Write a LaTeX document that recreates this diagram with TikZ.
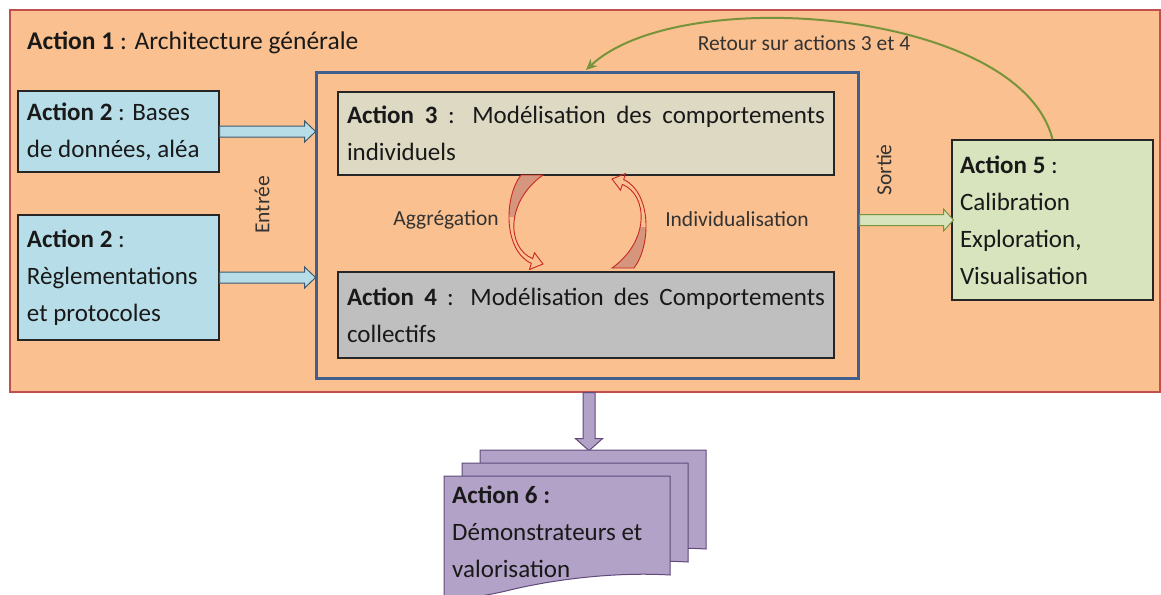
\documentclass[tikz,border=0pt]{standalone}
\usepackage{fontspec}
\setmainfont{Carlito}
\usetikzlibrary{arrows.meta}
\definecolor{orangefond}{RGB}{250,192,144}
\definecolor{rougebord}{RGB}{192,80,77}
\definecolor{bleuclair}{RGB}{183,222,232}
\definecolor{bleubord}{RGB}{60,90,110}
\definecolor{bleucadre}{RGB}{65,95,140}
\definecolor{beige}{RGB}{221,217,195}
\definecolor{grisclair}{RGB}{191,191,191}
\definecolor{vertclair}{RGB}{215,228,189}
\definecolor{vertfonce}{RGB}{119,147,60}
\definecolor{rougefleche}{RGB}{200,40,35}
\definecolor{saumon}{RGB}{214,150,125}
\definecolor{violet}{RGB}{179,162,199}
\definecolor{violetfonce}{RGB}{96,74,123}

\begin{document}
\begin{tikzpicture}[x=1pt,y=-1pt,
    action/.style={draw=black!85,line width=1.2pt,inner xsep=9pt,inner ysep=0pt,align=flush left,text=black!90,font=\fontsize{25pt}{37pt}\selectfont},
    etiquette/.style={text=black!80,inner sep=0pt,font=\fontsize{21.5pt}{24pt}\selectfont},
    bloc/.style={line width=1pt,line join=miter},
    courbe/.style={draw=rougefleche,line width=0.9pt}]
\useasboundingbox (0,0) rectangle (1161,594);
\node[draw=rougebord,fill=orangefond,line width=1.3pt,minimum width=1150pt,minimum height=382pt] (bg) at (585,201) {};
\node[anchor=west,inner sep=0pt,text=black!90,font=\fontsize{25.5pt}{37pt}\selectfont] (a1) at (27,43) {\textbf{Action 1} : Architecture générale};
\node[draw=bleucadre,line width=3pt,minimum width=542pt,minimum height=306pt] (frame) at (587,225) {};

\node[action,fill=bleuclair,minimum width=201pt,minimum height=81pt,text width=183pt] (b1) at (118.5,131.5) {\textbf{Action 2} : Bases\\de données, aléa};
\node[action,fill=bleuclair,minimum width=201pt,minimum height=125pt,text width=183pt] (b2) at (118.5,277.5) {\textbf{Action 2} :\\Règlementations\\et protocoles};
\node[action,fill=beige,minimum width=496pt,minimum height=83pt,text width=478pt,align=justify] (a3) at (586,133.5) {\textbf{Action 3} : Modélisation des comportements \mbox{individuels}};
\node[action,fill=grisclair,minimum width=496pt,minimum height=86pt,text width=478pt,align=justify] (a4) at (586,315) {\textbf{Action 4} : Modélisation des Comportements \mbox{collectifs}};
\node[action,fill=vertclair,minimum width=201pt,minimum height=160pt,text width=185pt,inner xsep=8pt] (a5) at (1052.5,220) {\textbf{Action 5} :\\Calibration\\Exploration,\\Visualisation};

\draw[bloc,draw=bleubord,fill=bleuclair] (b1.east) ++(0,-5.5) -- ++(85,0) -- ++(0,-5) -- ++(11,10.5) -- ++(-11,10.5) -- ++(0,-5) -- ++(-85,0) -- cycle;
\draw[bloc,draw=bleubord,fill=bleuclair] (b2.east) ++(0,-5.5) -- ++(85,0) -- ++(0,-5) -- ++(11,10.5) -- ++(-11,10.5) -- ++(0,-5) -- ++(-85,0) -- cycle;
\node[etiquette,rotate=90] (entree) at (262,205) {Entrée};

\draw[bloc,draw=vertfonce,fill=vertclair] (frame.east|-a5.west) ++(0,-5.5) -- ++(84,0) -- ++(0,-5.5) -- ++(10,11) -- ++(-10,11) -- ++(0,-5.5) -- ++(-84,0) -- cycle;
\node[etiquette,rotate=90] (sortie) at (884,170) {Sortie};

\coordinate (ret) at (586,70);
\draw[vertfonce,line width=2pt,-{Stealth[length=11pt,width=10pt]}] (a5.north) .. controls +(-32,-130) and +(94,-88) .. (ret);
\node[etiquette] (retour) at (804,43) {Retour sur actions 3 et 4};

\foreach \r in {0,180}{
  \begin{scope}[rotate around={\r:(577.5,221.5)}]
    \begin{scope}
      \clip (495,170) rectangle (560,216);
      \fill[saumon] (521,175) .. controls (504,197) and (503,250) .. (531.3,263.4) -- (529.5,269.5) -- (543,264) -- (534.5,252.8) -- (532.6,258.6) .. controls (507,248) and (505,202) .. (543,175) -- cycle;
    \end{scope}
    \draw[courbe] (521,175) .. controls (504,197) and (503,250) .. (531.3,263.4) -- (529.5,269.5) -- (543,264) -- (534.5,252.8) -- (532.6,258.6) .. controls (507,248) and (505,202) .. (543,175) -- cycle;
  \end{scope}
}
\node[etiquette] (aggr) at (446,220) {Aggrégation};
\node[etiquette] (indiv) at (737,219) {Individualisation};

\coordinate (stacktop) at (589,450);
\draw[bloc,draw=violetfonce,fill=violet] (stacktop|-bg.south) ++(-6,0) -- ++(0,46) -- ++(-7.5,0) -- ++(13.5,12) -- ++(13.5,-12) -- ++(-7.5,0) -- ++(0,-46) -- cycle;
\foreach \k in {2,1,0}
  \draw[bloc,draw=violetfonce,fill=violet,shift={(18*\k,-13*\k)}] (444,476) -- (670,476) -- (670,575) .. controls (620,572) and (560,578) .. (510,590) .. controls (490,595) and (460,600) .. (444,600) -- cycle;
\node[anchor=west,inner sep=0pt,text width=215pt,align=flush left,text=black!90,font=\fontsize{25pt}{37pt}\selectfont] (a6) at (452,532) {\textbf{Action 6 :}\\Démonstrateurs et\\valorisation};
\end{tikzpicture}
\end{document}
